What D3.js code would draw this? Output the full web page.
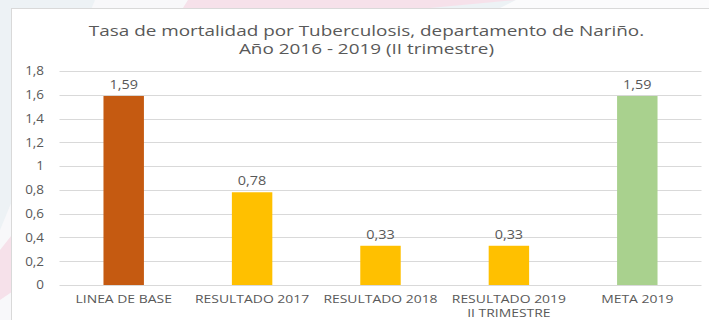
<!DOCTYPE html>
<html>
<head>
<meta charset="utf-8">
<script src="https://cdn.jsdelivr.net/npm/d3@7/dist/d3.min.js"></script>
<style>
  html, body { margin: 0; padding: 0; background: #ffffff; }
  svg { display: block; }
  text { font-family: "Open Sans", "Noto Sans", sans-serif; fill: #595959; }
</style>
</head>
<body>
<svg id="chart" width="709" height="320"></svg>
<script>
// Mortality rate from tuberculosis, Nariño
const categories = [["LINEA DE BASE"], ["RESULTADO 2017"], ["RESULTADO 2018"], ["RESULTADO 2019", "II TRIMESTRE"], ["META 2019"]];
const values = [1.59, 0.78, 0.33, 0.33, 1.59];
const valueLabels = ["1,59", "0,78", "0,33", "0,33", "1,59"];
const barColors = ["#c55a11", "#ffc000", "#ffc000", "#ffc000", "#a9d18e"];
const yTicks = [0, 0.2, 0.4, 0.6, 0.8, 1, 1.2, 1.4, 1.6, 1.8];
const titleLines = ["Tasa de mortalidad por Tuberculosis, departamento de Nariño.", "Año 2016 - 2019 (II trimestre)"];

const svg = d3.select("#chart");
const W = 709, H = 320;

// widen glyphs horizontally, keeping the anchor point
function widen(sel, factor) {
  sel.each(function () {
    const len = this.getComputedTextLength();
    d3.select(this).attr("textLength", len * factor).attr("lengthAdjust", "spacingAndGlyphs");
  });
}

// slide backdrop
svg.append("rect").attr("width", W).attr("height", H).attr("fill", "#edf2f5");
svg.append("polygon").attr("points", "95,0 188,0 150,120 40,320 0,320 0,230")
  .attr("fill", "#f8f8fa");
svg.append("polygon").attr("points", "188,0 516,0 430,8 0,300 0,250 150,60")
  .attr("fill", "#f6e1ea");
svg.append("polygon").attr("points", "516,0 709,0 709,8 500,8")
  .attr("fill", "#fbfbfc");

// chart area box
svg.append("rect").attr("x", 11.5).attr("y", 8.5).attr("width", W).attr("height", H)
  .attr("fill", "#ffffff").attr("stroke", "#d9d9d9").attr("stroke-width", 1);

const plot = { left: 59.5, right: 701.5, top: 71, bottom: 285 };

const x = d3.scaleBand()
  .domain(d3.range(categories.length))
  .range([plot.left, plot.right])
  .paddingInner(0.685)
  .paddingOuter(0.3425);

const y = d3.scaleLinear().domain([0, 1.8]).range([plot.bottom, plot.top]);

// gridlines
svg.append("g")
  .selectAll("line")
  .data(yTicks)
  .join("line")
  .attr("x1", plot.left).attr("x2", plot.right)
  .attr("y1", d => Math.round(y(d)) + 0.5).attr("y2", d => Math.round(y(d)) + 0.5)
  .attr("stroke", "#d9d9d9").attr("stroke-width", 1);

// y axis labels
const fmt = d => d3.format("")(d).replace(".", ",");
const yAxis = d3.axisLeft(y).tickValues(yTicks).tickFormat(fmt).tickSize(0).tickPadding(0);
const yg = svg.append("g").attr("transform", `translate(44,0)`).call(yAxis);
yg.select(".domain").remove();
yg.selectAll("text").attr("font-size", 12).attr("fill", "#595959")
  .style("font-family", "'Open Sans', sans-serif").call(widen, 1.12);

// bars
svg.append("g")
  .selectAll("rect")
  .data(values)
  .join("rect")
  .attr("x", (d, i) => x(i))
  .attr("width", x.bandwidth())
  .attr("y", d => y(d))
  .attr("height", d => y(0) - y(d))
  .attr("fill", (d, i) => barColors[i]);

// value labels
svg.append("g")
  .selectAll("text")
  .data(values)
  .join("text")
  .attr("x", (d, i) => x(i) + x.bandwidth() / 2)
  .attr("y", d => y(d) - 7)
  .attr("text-anchor", "middle")
  .attr("font-size", 12)
  .text((d, i) => valueLabels[i])
  .call(widen, 1.2);

// category labels (one text per line)
const catLines = categories.flatMap((lines, i) => lines.map((t, k) => ({ t, i, k })));
svg.append("g")
  .selectAll("text")
  .data(catLines)
  .join("text")
  .attr("x", d => x(d.i) + x.bandwidth() / 2)
  .attr("y", d => 303 + d.k * 14)
  .attr("text-anchor", "middle")
  .attr("font-size", 11.5)
  .text(d => d.t)
  .call(widen, 1.21);

// title
svg.append("g")
  .selectAll("text")
  .data(titleLines)
  .join("text")
  .attr("x", 366.5)
  .attr("y", (d, i) => 35.5 + i * 18)
  .attr("text-anchor", "middle")
  .attr("font-size", 15)
  .text(d => d)
  .call(widen, 1.26);
</script>
</body>
</html>
